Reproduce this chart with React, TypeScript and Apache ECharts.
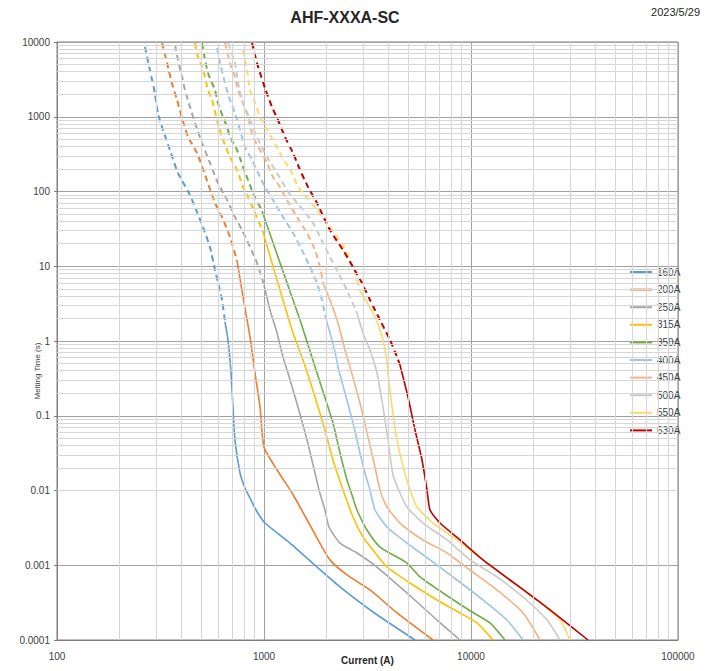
import React, { useEffect, useRef } from 'react';
import * as echarts from 'echarts';

const categories = ['160A', '200A', '250A', '315A', '350A', '400A', '450A', '500A', '550A', '630A'];
const colors = ['#5B9BD5', '#ED7D31', '#A5A5A5', '#FFC000', '#70AD47', '#9DC3E6', '#F4B183', '#C9C9C9', '#FFD966', '#C00000'];

const xTicks = [100, 1000, 10000, 100000];
const yTicks = [0.0001, 0.001, 0.01, 0.1, 1, 10, 100, 1000, 10000];

// 160A
const dashed160 = [[266, 8570], [281, 4220], [297, 2080], [307, 1120], [325, 665], [351, 359], [384, 177], [434, 95.5], [464, 62], [507, 33.5], [548, 18.1], [580, 8.9], [627, 3.54], [648, 1.8]];
const solid160 = [[648, 1.8], [670, 1.03], [693, 0.373], [708, 0.131], [724, 0.0474], [766, 0.0171], [809, 0.0108], [856, 0.00794], [915, 0.00548], [1011, 0.00367], [1335, 0.00198], [1803, 0.000947], [2329, 0.000512], [3362, 0.000237], [5364, 0.0001]];
// 200A
const dashed200 = [[322, 9700], [340, 5240], [359, 2830], [380, 1680], [402, 962], [430, 536], [475, 327], [525, 152], [580, 70.2], [627, 45.6], [685, 24.6], [741, 11.8]];
const solid200 = [[741, 11.8], [792, 3.88], [856, 1.13], [905, 0.373], [957, 0.131], [1000, 0.0382], [1156, 0.0188], [1366, 0.00926], [1578, 0.00456], [1824, 0.00218], [2083, 0.00118], [2518, 0.000741], [3252, 0.000467], [4391, 0.00023], [6551, 0.0001]];
// 250A
const dashed250 = [[372, 9120], [384, 5740], [402, 3400], [415, 2280], [439, 1350], [464, 825], [502, 445], [548, 241], [599, 130], [663, 77], [724, 45.6], [783, 30.5], [856, 18.1], [925, 11.1], [1000, 5.61]];
const solid250 = [[1000, 5.61], [1069, 2.6], [1156, 1.28], [1235, 0.611], [1306, 0.373], [1459, 0.131], [1614, 0.0474], [1764, 0.0171], [1844, 0.0102], [1970, 0.00548], [2061, 0.00325], [2329, 0.00198], [2813, 0.00146], [3515, 0.000947], [4907, 0.000425], [6851, 0.000185], [8849, 0.0001]];
// 315A
const dashed315 = [[464, 9700], [480, 6300], [502, 4630], [519, 3400], [536, 2280], [561, 1680], [593, 905], [627, 536], [685, 289], [741, 194], [792, 115], [837, 84.4], [905, 51.6], [989, 28.7]];
const solid315 = [[989, 28.7], [1156, 6.55], [1381, 1.28], [1561, 0.508], [1764, 0.178], [1970, 0.0645], [2154, 0.0256], [2407, 0.0102], [2692, 0.00442], [3008, 0.00239], [3362, 0.0016], [3928, 0.000947], [5073, 0.000579], [6851, 0.000343], [8849, 0.00023], [10690, 0.000169], [12770, 0.0001]];
// 350A
const dashed350 = [[502, 9700], [519, 5740], [536, 3850], [561, 2830], [580, 2280], [599, 1530], [634, 992], [663, 729], [685, 536], [741, 359], [792, 213], [837, 142.5], [885, 95.5], [978, 54.8]];
const solid350 = [[978, 54.8], [1195, 11.1], [1493, 1.91], [1803, 0.373], [2154, 0.08], [2329, 0.0318], [2518, 0.0138], [2661, 0.00871], [2813, 0.00548], [3145, 0.00296], [3634, 0.00175], [4907, 0.00107], [5669, 0.000697], [7322, 0.000425], [9890, 0.000246], [12350, 0.000169], [14590, 0.0001]];
// 400A
const dashed400 = [[593, 8310], [613, 5240], [648, 2830], [685, 1680], [724, 1120], [766, 665], [809, 394], [875, 264], [936, 177], [1011, 115], [1105, 77], [1235, 45.6], [1381, 27.8], [1526, 16.5], [1668, 9.77], [1803, 5.97], [1906, 3.54], [1970, 2.23]];
const solid400 = [[1970, 2.23], [2083, 1.28], [2203, 0.713], [2278, 0.449], [2462, 0.2015], [2692, 0.08], [2910, 0.0318], [3075, 0.0171], [3252, 0.0102], [3437, 0.00548], [3928, 0.00325], [4907, 0.00198], [6338, 0.00118], [8557, 0.000635], [11430, 0.000343], [14930, 0.000185], [17840, 0.0001]];
// 450A
const dashed450 = [[648, 9700], [685, 5240], [724, 3400], [749, 2280], [792, 1530], [828, 1120], [885, 536], [957, 359], [1034, 241], [1105, 156], [1195, 115], [1291, 77], [1443, 45.6], [1614, 27.8], [1764, 16.5], [1865, 9.77], [1928, 5.97]];
const solid450 = [[1928, 5.97], [2083, 3.54], [2278, 1.74], [2462, 0.758], [2603, 0.449], [2910, 0.148], [3180, 0.0519], [3437, 0.0206], [3634, 0.0102], [3928, 0.00601], [4539, 0.00367], [5863, 0.00218], [7657, 0.00146], [9890, 0.000864], [13350, 0.000467], [17840, 0.00023], [21540, 0.0001]];
// 500A
const dashed500 = [[670, 9700], [724, 5240], [749, 2830], [792, 1530], [856, 905], [925, 536], [1034, 289], [1156, 177], [1291, 105], [1443, 70.2], [1543, 56.6], [1725, 37.9], [1928, 20.5], [2154, 11.1], [2382, 6.55], [2603, 3.88], [2813, 2.37]];
const solid500 = [[2813, 2.37], [3008, 1.28], [3252, 0.758], [3515, 0.373], [3757, 0.131], [3972, 0.0474], [4200, 0.0161], [4539, 0.00926], [4907, 0.00601], [5863, 0.00367], [7657, 0.00218], [9890, 0.00118], [13350, 0.000697], [17840, 0.000376], [23290, 0.000185], [26920, 0.0001]];
// 550A
const dashed550 = [[792, 7820], [828, 4220], [856, 2280], [905, 1530], [957, 992], [1034, 665], [1105, 489], [1222, 289], [1366, 177], [1459, 115], [1543, 95.5], [1803, 56.6], [2015, 37.9], [2253, 24.6], [2518, 15.0], [2752, 8.12], [2910, 4.67]];
const solid550 = [[2910, 4.67], [3362, 2.37], [3675, 1.28], [3885, 0.65], [3972, 0.373], [4153, 0.131], [4391, 0.0474], [4746, 0.0188], [5073, 0.0102], [5484, 0.00601], [6551, 0.00367], [8557, 0.00218], [11430, 0.00118], [15430, 0.000635], [20830, 0.000343], [26920, 0.000185], [30080, 0.0001]];
// 630A
const dashed630 = [[875, 9700], [925, 5240], [957, 3850], [1011, 2420], [1093, 1350], [1168, 905], [1263, 536], [1381, 327], [1493, 194], [1632, 115], [1803, 70.2], [2083, 30.5], [2407, 16.5], [2692, 9.77], [2974, 5.97], [3252, 3.54], [3634, 1.91], [4062, 1.03], [4391, 0.611], [4539, 0.477]];
const solid630 = [[4539, 0.477], [4962, 0.178], [5364, 0.0645], [5798, 0.0256], [6130, 0.0102], [6338, 0.00548], [7083, 0.00367], [8849, 0.00218], [11430, 0.00118], [15430, 0.000635], [20830, 0.000343], [27820, 0.000185], [36750, 0.0001]];

const dashedData = [dashed160, dashed200, dashed250, dashed315, dashed350, dashed400, dashed450, dashed500, dashed550, dashed630];
const solidData = [solid160, solid200, solid250, solid315, solid350, solid400, solid450, solid500, solid550, solid630];

const FONT = '"Liberation Sans", Arial, sans-serif';

function minorValues(ticks: number[]) {
  const out: number[] = [];
  for (let i = 0; i < ticks.length - 1; i++) {
    for (let k = 2; k <= 9; k++) out.push(+(ticks[i] * k).toPrecision(6));
  }
  return out;
}

function fmt(v: number) {
  const e = Math.round(Math.log10(v));
  const t = xTicks.concat(yTicks).find((x) => Math.round(Math.log10(x)) === e);
  if (t !== undefined) return e >= 0 ? String(t) : t.toFixed(-e);
  return String(v);
}

const LEGEND_ICON = 'path://M0,0H22V2H0Z';

export default function App() {
  const ref = useRef<HTMLDivElement>(null);
  useEffect(() => {
    if (!ref.current) return;
    const chart = echarts.init(ref.current, undefined, { renderer: 'svg' });
    const series: any[] = [];
    categories.forEach((name, i) => {
      series.push({
        type: 'line',
        name,
        data: solidData[i],
        symbol: 'none',
        showSymbol: false,
        smooth: 0.2,
        z: 4,
        lineStyle: { color: colors[i], width: 1.6, type: 'solid' },
        itemStyle: { color: colors[i] },
      });
    });
    categories.forEach((name, i) => {
      series.push({
        type: 'line',
        name: name + ' (dashed)',
        data: dashedData[i],
        symbol: 'none',
        showSymbol: false,
        smooth: 0.2,
        z: 3,
        lineStyle: { color: colors[i], width: 2, type: [6, 4] },
        itemStyle: { color: colors[i] },
      });
    });
    series.push({
      type: 'line',
      name: 'minor-grid',
      data: [],
      symbol: 'none',
      silent: true,
      z: 1,
      markLine: {
        silent: true,
        symbol: ['none', 'none'],
        label: { show: false },
        animation: false,
        lineStyle: { color: '#d6d6d6', type: 'solid', width: 1 },
        emphasis: { disabled: true },
        data: [
          ...minorValues(xTicks).map((v) => ({ xAxis: v })),
          ...minorValues(yTicks).map((v) => ({ yAxis: v })),
        ],
      },
    });

    chart.setOption({
      animation: false,
      backgroundColor: '#ffffff',
      textStyle: { fontFamily: FONT },
      grid: {
        left: 57,
        right: 38,
        top: 42,
        bottom: 31,
        show: true,
        borderColor: '#7f7f7f',
        borderWidth: 1,
        backgroundColor: 'transparent',
        containLabel: false,
        outerBoundsMode: 'none',
      },
      legend: {
        orient: 'vertical',
        left: 625,
        top: 262,
        itemWidth: 22,
        itemHeight: 10,
        itemGap: 7.6,
        data: categories.map((n) => ({ name: n, icon: LEGEND_ICON })),
        textStyle: { fontSize: 10, color: '#404040', lineHeight: 10, fontFamily: FONT },
      },
      xAxis: {
        type: 'log',
        logBase: 10,
        min: 100,
        max: 100000,
        name: 'Current (A)',
        nameLocation: 'middle',
        nameGap: 15,
        nameMoveOverlap: false,
        nameTextStyle: { fontWeight: 'bold', fontSize: 10, color: '#262626', fontFamily: FONT, verticalAlign: 'top' },
        axisLine: { show: true, lineStyle: { color: '#7f7f7f' } },
        axisTick: { show: false },
        axisLabel: { formatter: fmt, color: '#404040', fontSize: 10, margin: 11, fontFamily: FONT },
        splitLine: { show: true, lineStyle: { color: '#a0a0a0', width: 1 } },
      },
      yAxis: {
        type: 'log',
        logBase: 10,
        min: 0.0001,
        max: 10000,
        axisLine: { show: true, lineStyle: { color: '#7f7f7f' } },
        axisTick: { show: true, length: 3, lineStyle: { color: '#7f7f7f' } },
        axisLabel: { formatter: fmt, color: '#404040', fontSize: 10, margin: 7, fontFamily: FONT },
        splitLine: { show: true, lineStyle: { color: '#a0a0a0', width: 1 } },
      },
      graphic: [
        {
          type: 'text',
          x: 345,
          y: 17,
          style: {
            text: 'AHF-XXXA-SC',
            font: `bold 16px ${FONT}`,
            fill: '#262626',
            align: 'center',
            verticalAlign: 'middle',
            textAlign: 'center',
            textVerticalAlign: 'middle',
          },
        },
        {
          type: 'text',
          x: 700,
          y: 12,
          style: {
            text: '2023/5/29',
            font: `11px ${FONT}`,
            fill: '#262626',
            align: 'right',
            verticalAlign: 'middle',
            textAlign: 'right',
            textVerticalAlign: 'middle',
          },
        },
        {
          type: 'text',
          x: 37,
          y: 371,
          rotation: Math.PI / 2,
          style: {
            text: 'Melting Time (s)',
            font: `8px ${FONT}`,
            fill: '#404040',
            align: 'center',
            verticalAlign: 'middle',
            textAlign: 'center',
            textVerticalAlign: 'middle',
          },
        },
      ],
      series,
    });
    return () => chart.dispose();
  }, []);
  return <div ref={ref} style={{ width: 716, height: 671, position: 'absolute', left: 0, top: 0 }} />;
}
